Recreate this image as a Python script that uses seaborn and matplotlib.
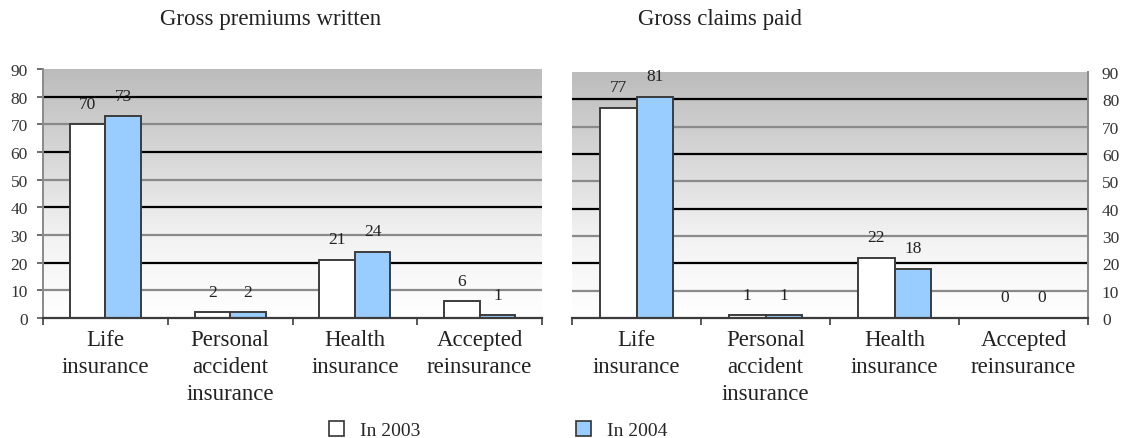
import numpy as np
import pandas as pd
import matplotlib
matplotlib.use("Agg")
import matplotlib.pyplot as plt
from matplotlib.colors import LinearSegmentedColormap
from matplotlib.patches import Patch
import seaborn as sns

# Insurance lines and the two years compared
categories = ["Life\ninsurance", "Personal\naccident\ninsurance",
              "Health\ninsurance", "Accepted\nreinsurance"]
years = ["In 2003", "In 2004"]

# Shares (%) by line of business
premiums_2003 = [70, 2, 21, 6]
premiums_2004 = [73, 2, 24, 1]
claims_2003 = [77, 1, 22, 0]
claims_2004 = [81, 1, 18, 0]

y_ticks = [0, 10, 20, 30, 40, 50, 60, 70, 80, 90]

sns.set_theme(style="white")
plt.rcParams["font.family"] = ["Liberation Serif", "DejaVu Serif"]

bar_colors = ["#ffffff", "#99ccff"]
edge = "#3c3c3c"
bg_cmap = LinearSegmentedColormap.from_list("bg", ["#ffffff", "#f2f2f2", "#d6d6d6", "#bcbcbc"])


def long_frame(v2003, v2004):
    return pd.DataFrame({
        "category": categories * 2,
        "year": [years[0]] * 4 + [years[1]] * 4,
        "value": list(v2003) + list(v2004),
    })


def draw_panel(ax, v2003, v2004, right_ticks):
    df = long_frame(v2003, v2004)
    sns.barplot(data=df, x="category", y="value", hue="year", order=categories,
                hue_order=years, palette=bar_colors, edgecolor=edge, linewidth=1.4,
                width=0.57, gap=0, legend=False, ax=ax, zorder=3, saturation=1)

    # shaded backdrop, dark at the top fading to white
    grad = np.linspace(0, 1, 256).reshape(-1, 1)
    ax.imshow(grad, extent=[-0.5, 3.5, 0, 90], origin="lower", aspect="auto",
              cmap=bg_cmap, zorder=0, interpolation="bicubic")

    # alternating dark / grey horizontal rules
    for t in y_ticks[1:-1]:
        ax.axhline(t, color="#000000" if t % 20 == 0 else "#8a8a8a", lw=1.6, zorder=1)

    ax.set_xlim(-0.5, 3.5)
    ax.set_ylim(0, 90)
    ax.set_yticks(y_ticks)
    ax.set_yticklabels([str(t) for t in y_ticks], fontsize=12.5, color="#333333")
    ax.set_xlabel("")
    ax.set_ylabel("")
    ax.set_xticks(range(4))
    ax.set_xticklabels(categories, fontsize=16.5, color="#222222", linespacing=1.36)
    ax.tick_params(axis="x", which="major", length=0, pad=8)
    ax.set_xticks([-0.5, 0.5, 1.5, 2.5, 3.5], minor=True)
    ax.tick_params(axis="x", which="minor", length=5, width=1.2, color=edge,
                   direction="out", bottom=True)

    if right_ticks:
        ax.yaxis.tick_right()
        ax.tick_params(axis="y", length=0, pad=10)
    else:
        ax.tick_params(axis="y", length=4, width=1.2, color="#555555",
                       direction="out", left=True, pad=7)

    for side in ["top", "left", "right"]:
        ax.spines[side].set_visible(False)
    ax.spines["bottom"].set_color(edge)
    ax.spines["bottom"].set_linewidth(1.6)
    ax.spines["bottom"].set_zorder(4)
    vside = "right" if right_ticks else "left"
    ax.spines[vside].set_visible(True)
    ax.spines[vside].set_color("#8a8a8a")
    ax.spines[vside].set_linewidth(1.4)

    for cont, vals in zip(ax.containers, [v2003, v2004]):
        ax.bar_label(cont, labels=[str(v) for v in vals], padding=9,
                     fontsize=12.5, color="#222222", zorder=5)


fig = plt.figure(figsize=(11.24, 4.39), dpi=100)
ax1 = fig.add_axes([43 / 1124, 1 - 319 / 439, 499 / 1124, 249 / 439])
ax2 = fig.add_axes([572 / 1124, 1 - 319 / 439, 516 / 1124, 246 / 439])

draw_panel(ax1, premiums_2003, premiums_2004, right_ticks=False)
draw_panel(ax2, claims_2003, claims_2004, right_ticks=True)

fig.text(271 / 1124, 1 - 20 / 439, "Gross premiums written", ha="center", va="center",
         fontsize=16.5, color="#222222")
fig.text(720 / 1124, 1 - 20 / 439, "Gross claims paid", ha="center", va="center",
         fontsize=16.5, color="#222222")

handles = [Patch(facecolor=c, edgecolor="#333333", linewidth=1.2) for c in bar_colors]
fig.legend(handles, years, loc="center", bbox_to_anchor=(498 / 1124, 1 - 431 / 439),
           ncol=2, frameon=False, fontsize=14, columnspacing=8.0, handlelength=0.8,
           handleheight=0.8, handletextpad=0.8, borderpad=0)

fig.savefig("out.png", dpi=100)
